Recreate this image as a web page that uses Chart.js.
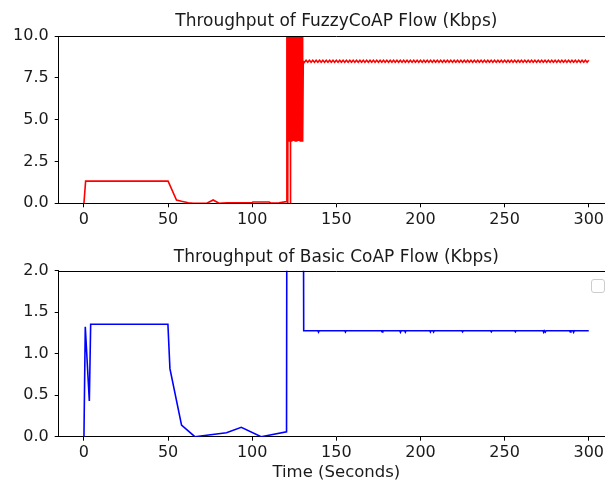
<!DOCTYPE html>
<html>
<head>
<meta charset="utf-8">
<script src="https://cdn.jsdelivr.net/npm/chart.js@4.4.1/dist/chart.umd.min.js"></script>
<style>
  html, body { margin: 0; padding: 0; background: #fff; }
  body { width: 605px; height: 483px; overflow: hidden; position: relative; }
  canvas { position: absolute; left: 0; }
  #fuzzyChart { top: 0; }
  #basicChart { top: 236px; }
</style>
</head>
<body>
<canvas id="fuzzyChart" width="672" height="236"></canvas>
<canvas id="basicChart" width="672" height="247"></canvas>
<script>
// time axis ticks (seconds)
const timeTicks = [0, 50, 100, 150, 200, 250, 300];
const fuzzyTicks = [0, 2.5, 5, 7.5, 10];
const basicTicks = [0, 0.5, 1, 1.5, 2];

// FuzzyCoAP throughput, [time, kbps] up to the burst
const fuzzyStart = [
  [0, 0], [1, 1.33], [50, 1.33], [55, 0.2], [58, 0.12], [62, 0.03], [65, 0],
  [73, 0], [76.8, 0.2], [80.3, 0], [85, 0.03], [100, 0.05], [100.5, 0.08],
  [110, 0.08], [111, 0.02], [116, 0.03], [120.3, 0.1]
];
// burst between 120 and 130 s (peaks go off the top of the axis)
const fuzzyBurst = [
  [120.6, 12], [120.85, 3.73], [121.05, 12], [121.2, 0.02], [121.35, 12],
  [121.6, 3.73], [121.85, 12], [122.1, 3.73], [122.35, 12], [122.55, 12],
  [122.7, 0.02], [122.85, 12], [123.1, 3.73], [123.35, 12], [123.6, 3.73],
  [123.85, 12], [124.1, 3.73], [124.35, 12], [124.6, 3.73], [124.85, 12],
  [125.1, 3.73], [125.35, 12], [125.6, 3.73], [125.85, 12], [126.1, 3.73],
  [126.35, 12], [126.6, 3.73], [126.85, 12], [127.1, 3.73], [127.35, 12],
  [127.6, 3.73], [127.85, 12], [128.1, 3.73], [128.35, 12], [128.6, 3.73],
  [128.85, 12], [129.1, 3.73], [129.35, 12], [129.6, 3.73], [129.85, 12],
  [130.1, 3.73], [130.35, 8.5]
];
// steady state, one sample per second from 131 s to 300 s
const fuzzyTailStart = 131;
const fuzzyTail = [
  8.44, 8.56, 8.44, 8.56, 8.44, 8.56, 8.44, 8.56, 8.44, 8.56,
  8.44, 8.56, 8.44, 8.56, 8.44, 8.56, 8.44, 8.56, 8.44, 8.56,
  8.44, 8.56, 8.44, 8.56, 8.44, 8.56, 8.44, 8.56, 8.44, 8.56,
  8.44, 8.56, 8.44, 8.56, 8.44, 8.56, 8.44, 8.56, 8.44, 8.56,
  8.44, 8.56, 8.44, 8.56, 8.44, 8.56, 8.44, 8.56, 8.44, 8.56,
  8.44, 8.56, 8.44, 8.56, 8.44, 8.56, 8.44, 8.56, 8.44, 8.56,
  8.44, 8.56, 8.44, 8.56, 8.44, 8.56, 8.44, 8.56, 8.44, 8.56,
  8.44, 8.56, 8.44, 8.56, 8.44, 8.56, 8.44, 8.56, 8.44, 8.56,
  8.44, 8.56, 8.44, 8.56, 8.44, 8.56, 8.44, 8.56, 8.44, 8.56,
  8.44, 8.56, 8.44, 8.56, 8.44, 8.56, 8.44, 8.56, 8.44, 8.56,
  8.44, 8.56, 8.44, 8.56, 8.44, 8.56, 8.44, 8.56, 8.44, 8.56,
  8.44, 8.56, 8.44, 8.56, 8.44, 8.56, 8.44, 8.56, 8.44, 8.56,
  8.44, 8.56, 8.44, 8.56, 8.44, 8.56, 8.44, 8.56, 8.44, 8.56,
  8.44, 8.56, 8.44, 8.56, 8.44, 8.56, 8.44, 8.56, 8.44, 8.56,
  8.44, 8.56, 8.44, 8.56, 8.44, 8.56, 8.44, 8.56, 8.44, 8.56,
  8.44, 8.56, 8.44, 8.56, 8.44, 8.56, 8.44, 8.56, 8.44, 8.56,
  8.44, 8.56, 8.44, 8.56, 8.44, 8.56, 8.44, 8.56, 8.44, 8.56
];

// Basic CoAP throughput, [time, kbps]
const basicFlow = [
  [0, 0], [0.8, 1.325], [3.2, 0.43], [4, 1.354], [49.9, 1.354], [51.1, 0.82],
  [58, 0.14], [65.9, 0], [84.7, 0.048], [93.5, 0.113], [105.3, 0], [120.4, 0.06],
  [121, 9], [129.7, 9], [130.6, 1.277],
  [139, 1.277], [139.4, 1.26], [139.8, 1.277],
  [155, 1.277], [155.4, 1.262], [155.8, 1.277],
  [176.8, 1.277], [177.2, 1.262], [177.6, 1.277],
  [187.7, 1.277], [188.1, 1.258], [188.5, 1.277], [190.6, 1.277], [191, 1.26], [191.4, 1.277],
  [205.5, 1.277], [205.9, 1.262], [206.3, 1.277], [207.4, 1.277], [207.8, 1.262], [208.2, 1.277],
  [224.6, 1.277], [225, 1.265], [225.4, 1.277],
  [241.7, 1.277], [242.1, 1.265], [242.5, 1.277],
  [256, 1.277], [256.4, 1.265], [256.8, 1.277],
  [272.8, 1.277], [273.2, 1.258], [273.6, 1.277], [273.8, 1.277], [274.2, 1.262], [274.6, 1.277],
  [288.6, 1.277], [289, 1.262], [289.4, 1.277], [290.6, 1.277], [291, 1.258], [291.4, 1.277],
  [300, 1.277]
];

const toPoints = pairs => pairs.map(p => ({ x: p[0], y: p[1] }));
const fuzzyPoints = toPoints(fuzzyStart)
  .concat(toPoints(fuzzyBurst))
  .concat(fuzzyTail.map((v, i) => ({ x: fuzzyTailStart + i, y: v })));

const FONT = "'DejaVu Sans', sans-serif";
const INK = '#1a1a1a';

// top spine plus the empty legend frame in the corner
const axesFrame = {
  id: 'axesFrame',
  afterDraw(chart, args, opts) {
    const { ctx, chartArea: a } = chart;
    ctx.save();
    ctx.strokeStyle = '#000';
    ctx.lineWidth = 1;
    const top = Math.round(a.top) + 0.5;
    ctx.beginPath();
    ctx.moveTo(a.left, top);
    ctx.lineTo(a.right, top);
    ctx.stroke();
    if (opts.emptyLegend) {
      ctx.strokeStyle = '#cccccc';
      ctx.fillStyle = 'rgba(255,255,255,0.8)';
      ctx.beginPath();
      ctx.roundRect(Math.round(a.right - 23) + 0.5, Math.round(a.top + 8) + 0.5, 13, 13, 2.5);
      ctx.fill();
      ctx.stroke();
    }
    ctx.restore();
  }
};

function xScale(height, withTitle) {
  return {
    type: 'linear',
    min: -15,
    max: 315,
    afterBuildTicks: s => { s.ticks = timeTicks.map(v => ({ value: v })); },
    afterFit: s => { s.height = height; },
    border: { display: true, color: '#000', width: 1 },
    grid: { display: true, drawOnChartArea: false, drawTicks: true, tickLength: 4, tickColor: '#000' },
    ticks: { color: INK, font: { family: FONT, size: 16 }, padding: 2.5, maxRotation: 0 },
    title: {
      display: withTitle,
      text: 'Time (Seconds)',
      color: INK,
      font: { family: FONT, size: 16.5 },
      padding: { top: 0, bottom: 0 }
    }
  };
}

function yScale(max, ticks) {
  return {
    type: 'linear',
    min: 0,
    max: max,
    afterBuildTicks: s => { s.ticks = ticks.map(v => ({ value: v })); },
    afterFit: s => { s.width = 58.7; },
    border: { display: true, color: '#000', width: 1 },
    grid: { display: true, drawOnChartArea: false, drawTicks: true, tickLength: 4, tickColor: '#000' },
    ticks: { color: INK, font: { family: FONT, size: 16 }, padding: 6, callback: v => v.toFixed(1) }
  };
}

function titleOpts(text, padBottom) {
  return {
    display: true,
    text: text,
    color: INK,
    fullSize: false,
    font: { family: FONT, size: 17, weight: 'normal' },
    padding: { top: 11.2, bottom: padBottom }
  };
}

new Chart(document.getElementById('fuzzyChart'), {
  type: 'line',
  data: {
    datasets: [{
      data: fuzzyPoints,
      borderColor: '#ff0000',
      borderWidth: 1.6,
      pointRadius: 0,
      tension: 0,
      fill: false
    }]
  },
  options: {
    responsive: false,
    animation: false,
    layout: { padding: { left: 0, right: 58, top: 0, bottom: 0 } },
    plugins: {
      legend: { display: false },
      tooltip: { enabled: false },
      title: titleOpts('Throughput of FuzzyCoAP Flow (Kbps)', 4.6),
      axesFrame: { emptyLegend: false }
    },
    scales: {
      x: xScale(32.7, false),
      y: yScale(10, fuzzyTicks)
    }
  },
  plugins: [axesFrame]
});

new Chart(document.getElementById('basicChart'), {
  type: 'line',
  data: {
    datasets: [{
      data: toPoints(basicFlow),
      borderColor: '#0000ff',
      borderWidth: 1.6,
      pointRadius: 0,
      tension: 0,
      fill: false
    }]
  },
  options: {
    responsive: false,
    animation: false,
    layout: { padding: { left: 0, right: 58, top: 0, bottom: 0 } },
    plugins: {
      legend: { display: false },
      tooltip: { enabled: false },
      title: titleOpts('Throughput of Basic CoAP Flow (Kbps)', 3.1),
      axesFrame: { emptyLegend: true }
    },
    scales: {
      x: xScale(46.3, true),
      y: yScale(2, basicTicks)
    }
  },
  plugins: [axesFrame]
});
</script>
</body>
</html>
